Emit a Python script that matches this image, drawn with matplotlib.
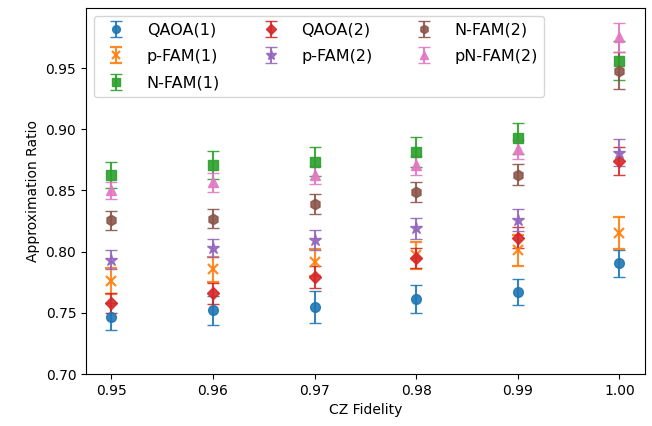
import matplotlib
matplotlib.use("Agg")
import matplotlib.pyplot as plt

fidelity = [0.95, 0.96, 0.97, 0.98, 0.99, 1.00]

labels = ["QAOA(1)", "p-FAM(1)", "N-FAM(1)", "QAOA(2)", "p-FAM(2)", "N-FAM(2)", "pN-FAM(2)"]
markers = ["o", "x", "s", "D", "*", "h", "^"]
colors = ["#1f77b4", "#ff7f0e", "#2ca02c", "#d62728", "#9467bd", "#8c564b", "#e377c2"]
msizes = [7, 7, 7, 6.3, 9, 7.5, 7.5]

qaoa1 = [0.7470, 0.7520, 0.7550, 0.7610, 0.7670, 0.7905]
qaoa1_err = [0.011, 0.012, 0.013, 0.0115, 0.011, 0.011]
pfam1 = [0.7760, 0.7855, 0.7915, 0.7970, 0.8010, 0.8150]
pfam1_err = [0.0105, 0.0105, 0.0110, 0.0110, 0.0130, 0.0130]
nfam1 = [0.8625, 0.8705, 0.8735, 0.8815, 0.8925, 0.9560]
nfam1_err = [0.0105, 0.0115, 0.0120, 0.0125, 0.0130, 0.0160]
qaoa2 = [0.7580, 0.7660, 0.7790, 0.7950, 0.8115, 0.8740]
qaoa2_err = [0.0080, 0.0085, 0.0090, 0.0080, 0.0085, 0.0115]
pfam2 = [0.7935, 0.8030, 0.8095, 0.8190, 0.8260, 0.8810]
pfam2_err = [0.0080, 0.0070, 0.0085, 0.0085, 0.0090, 0.0110]
nfam2 = [0.8255, 0.8270, 0.8390, 0.8485, 0.8630, 0.9480]
nfam2_err = [0.0075, 0.0075, 0.0080, 0.0080, 0.0085, 0.0150]
pnfam2 = [0.8500, 0.8565, 0.8625, 0.8705, 0.8835, 0.9750]
pnfam2_err = [0.0070, 0.0075, 0.0075, 0.0075, 0.0075, 0.0115]

series = [qaoa1, pfam1, nfam1, qaoa2, pfam2, nfam2, pnfam2]
errors = [qaoa1_err, pfam1_err, nfam1_err, qaoa2_err, pfam2_err, nfam2_err, pnfam2_err]

fig = plt.figure(figsize=(6.52, 4.26), dpi=100)
ax = fig.add_axes([0.132, 0.122, 0.857, 0.859])

for vals, errs, lab, mk, col, ms in zip(series, errors, labels, markers, colors, msizes):
    ax.errorbar(fidelity, vals, yerr=errs, fmt=mk, color=col, label=lab,
                capsize=4, capthick=1.3, markersize=ms,
                markeredgewidth=1.6 if mk == "x" else 1, alpha=0.9)

ax.set_ylim(0.70, 0.999)
ax.set_xlim(0.9475, 1.0025)
ax.set_xticks(fidelity)
ax.set_xticklabels(["0.95", "0.96", "0.97", "0.98", "0.99", "1.00"])
ax.set_yticks([0.70, 0.75, 0.80, 0.85, 0.90, 0.95])
ax.set_xlabel("CZ Fidelity")
ax.set_ylabel("Approximation Ratio")
ax.legend(ncol=3, loc="upper left", fontsize=11.5, markerscale=0.8,
          columnspacing=2.2, labelspacing=0.72, handletextpad=0.9)

fig.savefig("out.png", dpi=100)
